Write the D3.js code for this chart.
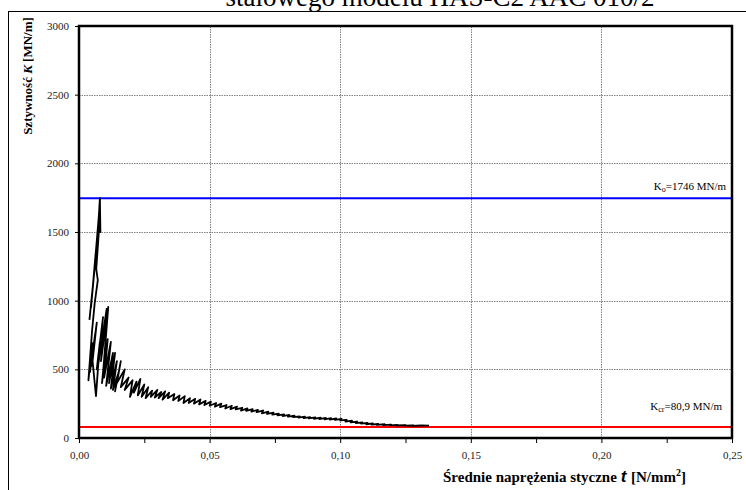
<!DOCTYPE html>
<html>
<head>
<meta charset="utf-8">
<script src="https://cdn.jsdelivr.net/npm/d3@7"></script>
<style>
  html, body { margin: 0; padding: 0; background: #fff; }
  svg { display: block; }
  text { font-family: "Liberation Serif", "Times New Roman", serif; }
</style>
</head>
<body>
<svg id="chart" width="746" height="490"></svg>
<script>
// Mean shear stress t [N/mm²] and stiffness K [MN/m] along the loading path
const stressT = [
  0.0040, 0.0058, 0.0046, 0.0064, 0.0052, 0.0070, 0.0058, 0.0076, 0.0080, 0.0082,
  0.0079, 0.0066, 0.0072, 0.0060, 0.0050, 0.0036, 0.0052, 0.0042, 0.0062, 0.0046,
  0.0068, 0.0052, 0.0065, 0.0080, 0.0068, 0.0092, 0.0074, 0.0106, 0.0084, 0.0112,
  0.0094, 0.0088, 0.0110, 0.0096, 0.0122, 0.0104, 0.0130, 0.0115, 0.0138, 0.0122,
  0.0145, 0.0130, 0.0152, 0.0138,
  0.0160, 0.0145, 0.0175,
  0.0160, 0.0190, 0.0175, 0.0205, 0.0195, 0.0220, 0.0210, 0.0235, 0.0225, 0.0250,
  0.0240, 0.0265, 0.0255, 0.0280, 0.0275, 0.0300, 0.0290, 0.0315, 0.0305, 0.0330,
  0.0320, 0.0345, 0.0340, 0.0365, 0.0360, 0.0385, 0.0380, 0.0405, 0.0400, 0.0425,
  0.0420, 0.0445, 0.0440, 0.0465, 0.0460, 0.0485, 0.0480, 0.0505, 0.0500, 0.0525,
  0.0520, 0.0545, 0.0540, 0.0565, 0.0560, 0.0585, 0.0580, 0.0605, 0.0600, 0.0625,
  0.0620, 0.0645, 0.0640, 0.0665, 0.0660, 0.0685, 0.0680, 0.0705, 0.0700, 0.0725,
  0.0720, 0.0745, 0.0740, 0.0765, 0.0760, 0.0785, 0.0780, 0.0805, 0.0800, 0.0825,
  0.0820, 0.0845, 0.0840, 0.0865, 0.0860, 0.0885, 0.0880, 0.0905, 0.0900, 0.0925,
  0.0920, 0.0945, 0.0940, 0.0965, 0.0960, 0.0985, 0.0980, 0.1005, 0.1000, 0.1025,
  0.1020, 0.1045, 0.1040, 0.1065, 0.1060, 0.1085, 0.1080, 0.1105, 0.1100, 0.1125,
  0.1120, 0.1145, 0.1140, 0.1170, 0.1165, 0.1195, 0.1190, 0.1220, 0.1215, 0.1250,
  0.1245, 0.1280, 0.1275, 0.1310, 0.1340
];
const stiffnessK = [
  860, 1200, 950, 1350, 1080, 1480, 1200, 1620, 1746, 1500,
  1580, 1230, 1150, 980, 780, 420, 690, 480, 760, 520,
  840, 560, 305, 700, 500, 880, 540, 940, 560, 955,
  520, 400, 720, 440, 700, 380, 620, 400, 620, 360,
  560, 350, 480, 340,
  560, 400, 500,
  370, 440, 350, 420, 300, 410, 330, 430, 310, 390,
  300, 370, 290, 345, 300, 350, 295, 335, 290, 340,
  280, 330, 290, 320, 275, 310, 270, 305, 255, 290,
  255, 285, 250, 280, 245, 270, 240, 265, 235, 255,
  228, 250, 225, 240, 215, 235, 210, 228, 208, 220,
  200, 215, 198, 210, 192, 205, 188, 200, 180, 192,
  175, 185, 170, 178, 165, 172, 160, 168, 155, 162,
  152, 158, 148, 155, 145, 152, 143, 150, 140, 148,
  138, 146, 136, 145, 134, 142, 132, 140, 128, 132,
  120, 126, 114, 120, 108, 114, 104, 110, 100, 106,
  97, 102, 95, 100, 93, 98, 92, 96, 91, 94,
  90, 92, 89, 91, 90
];

// Reference stiffness levels
const kInitial = 1746;
const kCritical = 80.9;

// Axis ticks
const yTicks = [0, 500, 1000, 1500, 2000, 2500, 3000];
const xMajorTicks = [0, 0.05, 0.10, 0.15, 0.20, 0.25];
const xAllTicks = [0, 0.025, 0.05, 0.075, 0.10, 0.125, 0.15, 0.175, 0.20, 0.225, 0.25];

const titleText = "stalowego modelu HAS-C2 AAC 010/2";

const svg = d3.select("#chart");

const x = d3.scaleLinear().domain([0, 0.25]).range([79, 732]);
const y = d3.scaleLinear().domain([0, 3000]).range([438, 26]);

// Outer chart frame (partially outside the canvas)
svg.append("rect")
  .attr("x", 8.5).attr("y", 11.5)
  .attr("width", 760).attr("height", 500)
  .attr("fill", "none").attr("stroke", "#000").attr("stroke-width", 1);

// Title, mostly above the visible area
svg.append("text")
  .attr("x", 440).attr("y", 6)
  .attr("text-anchor", "middle")
  .attr("font-size", 27)
  .attr("fill", "#000")
  .text(titleText);

// Grid
const grid = svg.append("g").attr("stroke", "#808080").attr("stroke-width", 1)
  .attr("stroke-dasharray", "1.5,1");
grid.selectAll("line.gy").data(yTicks.filter(v => v > 0 && v < 3000)).join("line")
  .attr("x1", x(0)).attr("x2", x(0.25))
  .attr("y1", d => Math.round(y(d)) + 0.5).attr("y2", d => Math.round(y(d)) + 0.5);
grid.selectAll("line.gx").data(xMajorTicks.filter(v => v > 0 && v < 0.25)).join("line")
  .attr("y1", y(0)).attr("y2", y(3000))
  .attr("x1", d => Math.round(x(d)) + 0.5).attr("x2", d => Math.round(x(d)) + 0.5);

// Axes
const fmtX = d => d.toFixed(2).replace(".", ",");
const yAxis = svg.append("g")
  .attr("transform", `translate(${x(0)},0)`)
  .call(d3.axisLeft(y).tickValues(yTicks).tickSize(4).tickPadding(6).tickFormat(d3.format("d")));
const xAxis = svg.append("g")
  .attr("transform", `translate(0,${y(0)})`)
  .call(d3.axisBottom(x).tickValues(xAllTicks).tickSize(5).tickPadding(8)
    .tickFormat(d => xMajorTicks.some(m => Math.abs(m - d) < 1e-9) ? fmtX(d) : ""));
[yAxis, xAxis].forEach(a => {
  a.select(".domain").remove();
  a.selectAll("text").attr("font-family", "Liberation Serif, serif").attr("font-size", 11).attr("fill", "#222");
  a.selectAll("line").attr("stroke", "#000");
});

// Reference lines
svg.append("line")
  .attr("x1", x(0)).attr("x2", x(0.25))
  .attr("y1", y(kInitial)).attr("y2", y(kInitial))
  .attr("stroke", "#0000ff").attr("stroke-width", 2);
svg.append("line")
  .attr("x1", x(0)).attr("x2", x(0.25))
  .attr("y1", y(kCritical)).attr("y2", y(kCritical))
  .attr("stroke", "#ff0000").attr("stroke-width", 2);

// Stiffness path
const pts = stressT.map((t, i) => [t, stiffnessK[i]]);
svg.append("path")
  .datum(pts)
  .attr("fill", "none")
  .attr("stroke", "#000")
  .attr("stroke-width", 1.8)
  .attr("stroke-linejoin", "round")
  .attr("d", d3.line().x(d => x(d[0])).y(d => y(d[1])));

// Plot frame
svg.append("rect")
  .attr("x", x(0)).attr("y", y(3000))
  .attr("width", x(0.25) - x(0)).attr("height", y(0) - y(3000))
  .attr("fill", "none").attr("stroke", "#000").attr("stroke-width", 2.5);

// Annotations
const a1 = svg.append("text").attr("x", 726).attr("y", y(kInitial) - 8)
  .attr("text-anchor", "end").attr("font-size", 11).attr("fill", "#000");
a1.append("tspan").text("K");
a1.append("tspan").attr("font-size", 8).attr("dy", 2).text("o");
a1.append("tspan").attr("dy", -2).text("=1746 MN/m");

const a2 = svg.append("text").attr("x", 722).attr("y", y(kCritical) - 17)
  .attr("text-anchor", "end").attr("font-size", 11).attr("fill", "#000");
a2.append("tspan").text("K");
a2.append("tspan").attr("font-size", 8).attr("dy", 2).text("cr");
a2.append("tspan").attr("dy", -2).text("=80,9 MN/m");

// X axis title
const xt = svg.append("text").attr("x", 443).attr("y", 482)
  .attr("font-size", 15).attr("font-weight", "bold").attr("fill", "#000");
xt.append("tspan").text("Średnie naprężenia styczne ");
xt.append("tspan").attr("font-family", "Liberation Sans, Arial, sans-serif")
  .attr("font-style", "italic").attr("font-size", 17).text(" t ");
xt.append("tspan").text(" [N/mm");
xt.append("tspan").attr("font-size", 10).attr("dy", -6).text("2");
xt.append("tspan").attr("dy", 6).text("]");

// Y axis title
const yt = svg.append("text")
  .attr("transform", "translate(32,76) rotate(-90)")
  .attr("text-anchor", "middle")
  .attr("font-size", 13).attr("font-weight", "bold").attr("fill", "#000");
yt.append("tspan").text("Sztywność ");
yt.append("tspan").attr("font-style", "italic").text("K");
yt.append("tspan").text("  [MN/m]");
</script>
</body>
</html>
